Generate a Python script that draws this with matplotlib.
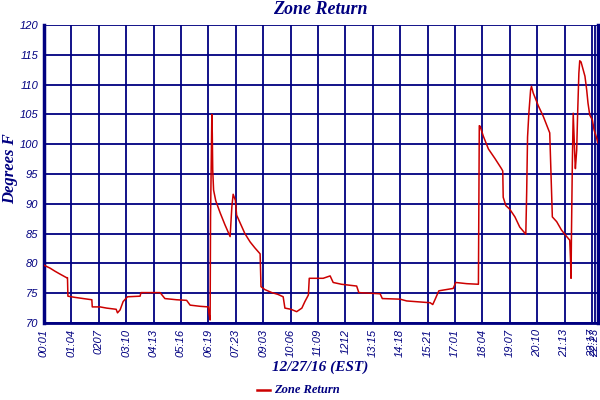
import matplotlib
matplotlib.use("Agg")
import matplotlib.pyplot as plt
from matplotlib.lines import Line2D

# sample number along the log (one tick every 63 samples)
sample = [0, 14, 25, 37, 52, 54, 55, 71, 90, 110, 111, 129, 144, 166, 169, 175,
          182, 192, 221, 223, 267, 278, 305, 328, 336, 359, 378, 379, 382, 383,
          386, 387, 388, 390, 395, 405, 416, 428, 432, 435, 438, 440, 443, 451,
          462, 474, 485, 497, 499, 508, 524, 538, 550, 554, 568, 581, 593, 600,
          608, 610, 642, 658, 665, 684, 719, 724, 773, 778, 819, 834, 888, 894,
          899, 908, 941, 947, 972, 999, 1001, 1003, 1010, 1022, 1037, 1052,
          1055, 1056, 1062, 1071, 1083, 1094, 1108, 1110, 1112, 1115, 1119,
          1121, 1125, 1137, 1148, 1163, 1166, 1169, 1179, 1190, 1202, 1209,
          1211, 1212, 1213, 1215, 1217, 1219, 1221, 1222, 1225, 1227, 1230,
          1232, 1235, 1240, 1244, 1248, 1251, 1255, 1261, 1265, 1271, 1274]
zone_return = [79.7, 79.2, 78.7, 78.2, 77.6, 77.6, 74.5, 74.3, 74.1, 73.9, 72.7,
               72.7, 72.5, 72.3, 71.7, 72.2, 73.6, 74.4, 74.5, 75.1, 75.1, 74.1,
               73.9, 73.8, 73.0, 72.8, 72.7, 71.8, 70.5, 87.8, 105.0, 101.8,
               95.7, 92.3, 90.5, 88.5, 86.5, 84.5, 89.5, 91.6, 91.0, 90.6, 88.1,
               86.8, 85.0, 83.6, 82.6, 81.6, 76.1, 75.6, 75.1, 74.8, 74.4, 72.5,
               72.3, 71.9, 72.5, 73.6, 74.7, 77.5, 77.5, 77.9, 76.8, 76.5, 76.2,
               75.1, 74.9, 74.1, 74.0, 73.7, 73.4, 73.1, 73.9, 75.4, 75.8, 76.8,
               76.6, 76.5, 103.1, 103.0, 101.4, 99.2, 97.6, 95.9, 95.5, 91.1,
               89.7, 89.1, 87.8, 86.1, 84.9, 92.0, 101.2, 105.2, 109.1, 109.7,
               108.6, 106.4, 104.7, 101.9, 94.6, 87.8, 87.0, 85.6, 84.5, 83.9,
               80.3, 77.5, 85.1, 96.8, 105.2, 101.2, 97.3, 95.9, 99.0, 104.7,
               111.9, 114.0, 113.8, 112.5, 111.4, 109.1, 106.9, 104.9, 104.1,
               102.4, 101.0, 100.2]

tick_pos = [0, 63, 126, 189, 252, 315, 378, 441, 504, 567, 630, 693, 756, 819,
            882, 945, 1008, 1071, 1134, 1197, 1260, 1268]
tick_labels = ["00:01", "01:04", "0207", "03:10", "04:13", "05:16", "06:19",
               "07:23", "09:03", "10:06", "11:09", "1212", "13:15", "14:18",
               "15:21", "17:01", "18:04", "19:07", "20:10", "21:13", "22:17",
               "22:23"]
y_ticks = [70, 75, 80, 85, 90, 95, 100, 105, 110, 115, 120]

navy = "#000080"
red = "#CC0000"

fig = plt.figure(figsize=(6, 4), dpi=100)
ax = fig.add_axes([44 / 600, 77 / 400, 554 / 600, 298 / 400])

ax.plot(sample, zone_return, color=red, lw=1.1, zorder=3)

ax.set_xlim(0, 1274)
ax.set_ylim(70, 120)
ax.set_xticks(tick_pos)
ax.set_xticklabels(tick_labels, rotation=90, fontsize=8, style="italic",
                   family="Liberation Sans", color=navy)
ax.set_yticks(y_ticks)
ax.set_yticklabels([str(v) for v in y_ticks], fontsize=8, style="italic",
                   family="Liberation Sans", color=navy)
ax.tick_params(length=0, pad=4)
ax.grid(True, color=navy, lw=1.3, zorder=1)

ax.spines["top"].set_visible(False)
ax.spines["left"].set_color(navy)
ax.spines["left"].set_linewidth(2.5)
ax.spines["bottom"].set_color(navy)
ax.spines["bottom"].set_linewidth(2)
ax.spines["right"].set_color(navy)
ax.spines["right"].set_linewidth(2.5)

serif = "Liberation Serif"
fig.text(320 / 600, 1 - 10 / 400, "Zone Return", ha="center", va="center",
         fontsize=13, fontweight="bold", style="italic", family=serif,
         color=navy)
fig.text(10 / 600, 1 - 169 / 400, "Degrees F", ha="center", va="center",
         rotation=90, fontsize=12, fontweight="bold", style="italic",
         family=serif, color=navy)
fig.text(320 / 600, 1 - 367 / 400, "12/27/16 (EST)", ha="center", va="center",
         fontsize=11, fontweight="bold", style="italic", family=serif,
         color=navy)

fig.add_artist(Line2D([257 / 600, 270 / 600], [1 - 390 / 400, 1 - 390 / 400],
                      color=red, lw=1.8, transform=fig.transFigure))
fig.text(274 / 600, 1 - 390 / 400, "Zone Return", ha="left", va="center",
         fontsize=9, fontweight="bold", style="italic", family=serif,
         color=navy)

fig.savefig("out.png", dpi=100)
